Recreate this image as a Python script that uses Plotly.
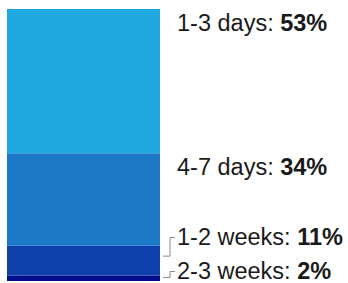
import plotly.graph_objects as go

categories = ["2-3 weeks", "1-2 weeks", "4-7 days", "1-3 days"]
values = [2, 11, 34, 53]
colors = ["#000C8C", "#0F40AA", "#1C79C8", "#1FA8DF"]

W, H = 348, 283
bar_left_px, bar_right_px = 7, 160
px_per_unit = bar_right_px - bar_left_px
x0 = -0.5 - bar_left_px / px_per_unit
x1 = x0 + W / px_per_unit

def xpx(p):
    return x0 + p / px_per_unit

fig = go.Figure()
base = 0
bases = []
for cat, v, c in zip(categories, values, colors):
    fig.add_trace(go.Bar(x=[0], y=[v], base=[base], width=1, marker=dict(color=c, line=dict(width=0)),
                         name=cat, showlegend=False, hoverinfo="skip"))
    bases.append(base)
    base += v

# label positions: near top of each segment, pushed up to avoid overlaps
min_gap = 12.5
label_y = []
prev = None
for b, v in zip(bases, values):
    y = b + v - 5.2
    lo = 3.5 if prev is None else prev + min_gap
    y = max(y, lo)
    label_y.append(y)
    prev = y

lab_x = xpx(175)
for cat, v, b, ly in zip(categories, values, bases, label_y):
    fig.add_annotation(x=lab_x, y=ly, xref="x", yref="y", xanchor="left", yanchor="middle",
                       text=f"{cat}: <b>{v}%</b>", showarrow=False,
                       font=dict(family="Liberation Sans, Arial", size=23.5, color="#1a1a1a"))
    if ly > b + v:
        sy = b + 0.65 * v
        fig.add_shape(type="path", xref="x", yref="y",
                      path=f"M {xpx(163)} {sy} L {xpx(170)} {sy} L {xpx(170)} {ly} L {xpx(175)} {ly}",
                      line=dict(color="#8a8a8a", width=1))

fig.update_layout(
    width=W, height=H, margin=dict(l=0, r=0, t=9, b=2),
    barmode="overlay", plot_bgcolor="white", paper_bgcolor="white",
    xaxis=dict(range=[x0, x1], visible=False, fixedrange=True),
    yaxis=dict(range=[0, 100], visible=False, fixedrange=True),
)
fig.write_html("out.html", config={"staticPlot": True},
               post_script="document.body.style.margin='0';document.body.style.overflow='hidden';")
